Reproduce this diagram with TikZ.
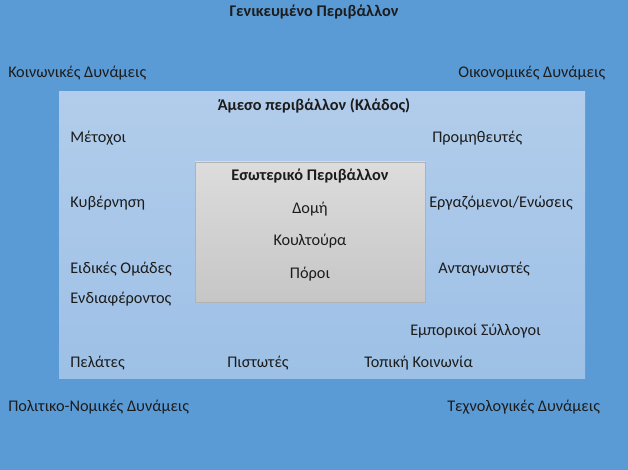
\documentclass[tikz,border=0pt]{standalone}
\usepackage{fontspec}
\setmainfont{Carlito}
\definecolor{bgblue}{HTML}{5B9BD5}
\definecolor{ltop}{HTML}{B2CDEB}
\definecolor{lbot}{HTML}{9DC0E6}
\definecolor{gtop}{HTML}{DCDCDC}
\definecolor{gbot}{HTML}{C6C6C6}
\definecolor{txt}{HTML}{1C1C1C}
\begin{document}
\begin{tikzpicture}[x=0.75pt,y=-0.75pt,
  lbl/.style={anchor=base west,inner sep=0pt,font=\fontsize{12.2}{14}\selectfont,text=txt},
  clbl/.style={anchor=base,inner sep=0pt,font=\fontsize{12.2}{14}\selectfont,text=txt},
  bold/.style={font=\fontsize{12.2}{14}\selectfont\bfseries}]
\fill[bgblue] (0,0) rectangle (628,470);
\useasboundingbox (0,0) rectangle (628,470);
\shade[top color=ltop,bottom color=lbot] (59,92) rectangle (585,378);
\shade[top color=gtop,bottom color=gbot,draw=gray!60,line width=0.5pt] (195,162) rectangle (425,302);
% general environment
\node[clbl,bold] (gen) at (314,17) {Γενικευμένο Περιβάλλον};
\node[lbl] (koin) at (8,78) {Κοινωνικές Δυνάμεις};
\node[lbl] (oik) at (458,78) {Οικονομικές Δυνάμεις};
\node[lbl] (pol) at (8,411) {Πολιτικο-Νομικές Δυνάμεις};
\node[lbl] (tech) at (447,411) {Τεχνολογικές Δυνάμεις};
% task environment
\node[clbl,bold] (amesso) at (314,111) {Άμεσο περιβάλλον (Κλάδος)};
\node[lbl] (met) at (70,143) {Μέτοχοι};
\node[lbl] (prom) at (432,143) {Προμηθευτές};
\node[lbl] (kyv) at (70,208) {Κυβέρνηση};
\node[lbl] (erg) at (429,208) {Εργαζόμενοι/Ενώσεις};
\node[lbl] (eid) at (70,273) {Ειδικές Ομάδες};
\node[lbl] (end) at (70,303) {Ενδιαφέροντος};
\node[lbl] (ant) at (438,273) {Ανταγωνιστές};
\node[lbl] (emp) at (410,335) {Εμπορικοί Σύλλογοι};
\node[lbl] (pel) at (70,367) {Πελάτες};
\node[lbl] (pist) at (227,367) {Πιστωτές};
\node[lbl] (top) at (364,367) {Τοπική Κοινωνία};
% internal environment
\node[clbl,bold] (eso) at (310,181) {Εσωτερικό Περιβάλλον};
\node[clbl] (domi) at (310,214) {Δομή};
\node[clbl] (koul) at (310,246) {Κουλτούρα};
\node[clbl] (poroi) at (310,278) {Πόροι};
\end{tikzpicture}
\end{document}
